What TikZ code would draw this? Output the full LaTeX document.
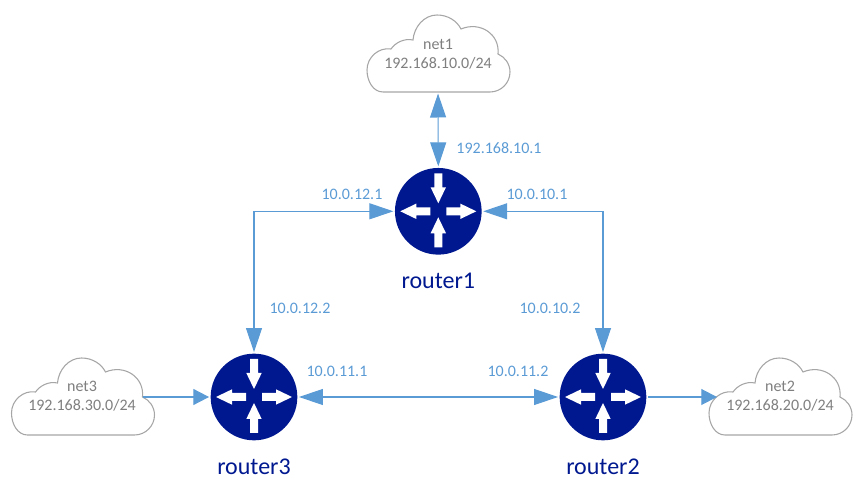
\documentclass[tikz,border=0pt]{standalone}
\usepackage{fontspec}
\setmainfont{Carlito}
\usetikzlibrary{positioning,arrows.meta}
\definecolor{linkblue}{HTML}{5B9BD5}
\definecolor{routerblue}{HTML}{00188F}
\definecolor{cloudgray}{HTML}{A6A6A6}
\definecolor{netgray}{HTML}{7F7F7F}
\tikzset{
	longtip/.tip={Triangle[length=18pt,width=12pt]},
	shorttip/.tip={Triangle[length=11.8pt,width=12pt]},
	routernode/.style={circle,fill=routerblue,minimum size=65pt,inner sep=0pt,outer sep=1.2pt},
	routertext/.style={text=routerblue,font=\fontsize{18pt}{21pt}\selectfont},
	iptext/.style={text=linkblue,font=\fontsize{12pt}{14pt}\selectfont},
	nettext/.style={text=netgray,align=center,font=\fontsize{12pt}{14.2pt}\selectfont},
	link/.style={draw=linkblue,line width=.8pt},
	cloudpic/.pic={
		\draw[cloudgray,line width=.8pt,fill=white] (16,77) .. controls (6,77) and (0,66) .. (0,55)
		.. controls (0,42) and (12,32) .. (24,34) .. controls (28,28) and (37,23) .. (46,25)
		.. controls (47,12) and (57,0) .. (70,0) .. controls (81,0) and (90,6) .. (94,14)
		.. controls (113,6) and (133,19) .. (131,39) .. controls (138,42) and (143,49) .. (143,57)
		.. controls (143,68) and (134,77) .. (123,77) -- cycle;
		\coordinate (-bottom) at (71,78.5);
		\coordinate (-notch) at (131,39);
		\coordinate (-left) at (8,39);
	},
	arrowinpic/.pic={
		\fill[white] (-4,-38) -- (4,-38) -- (4,-24) -- (7.7,-24) -- (0,-8) -- (-7.7,-24) -- (-4,-24) -- cycle;
	},
	arrowoutpic/.pic={
		\fill[white] (-4,-8) -- (4,-8) -- (4,-22) -- (7.7,-22) -- (0,-38) -- (-7.7,-22) -- (-4,-22) -- cycle;
	}
}
\begin{document}
\begin{tikzpicture}[x=.75pt,y=-.75pt,>=longtip]
	\useasboundingbox (0,0) rectangle (861,491);
	% clouds
	\pic (net1) at (367,15) {cloudpic};
	\pic (net3) at (11.5,358) {cloudpic};
	\pic (net2) at (709,358) {cloudpic};
	\node[nettext] (net1text) at (438,54.5) {net1\\192.168.10.0/24};
	\node[nettext] (net3text) at (82,396.5) {net3\\192.168.30.0/24};
	\node[nettext] (net2text) at (780,396.5) {net2\\192.168.20.0/24};
	% routers
	\node[routernode] (router1) at (438.3,211.3) {};
	\node[routernode] (router3) at (254,397) {};
	\node[routernode] (router2) at (603,397) {};
	\foreach \r in {router1,router2,router3}{
		\pic at (\r) {arrowinpic};
		\pic[rotate=180,yshift=-1.5pt] at (\r) {arrowinpic};
		\pic[rotate=90] at (\r) {arrowoutpic};
		\pic[rotate=270] at (\r) {arrowoutpic};
	}
	\node[routertext,below=9pt of router1] (router1text) {router1};
	\node[routertext,below=9pt of router3] (router3text) {router3};
	\node[routertext,below=9pt of router2] (router2text) {router2};
	% links
	\draw[link,<->] (net1-bottom) -- (router1.north);
	\draw[link,<->] (router1.west) -| (router3.north);
	\draw[link,<->] (router1.east) -| (router2.north);
	\draw[link,<->] (router3.east) -- (router2.west);
	\draw[link,-shorttip] (net3-notch) -- (router3.west);
	\draw[link,-shorttip] (router2.east) -- (net2-left);
	% addresses
	\node[iptext] (ip1) at (499,148) {192.168.10.1};
	\node[iptext] (ip2) at (352,194) {10.0.12.1};
	\node[iptext] (ip3) at (537,194) {10.0.10.1};
	\node[iptext] (ip4) at (300,308) {10.0.12.2};
	\node[iptext] (ip5) at (550,308) {10.0.10.2};
	\node[iptext] (ip6) at (337,371) {10.0.11.1};
	\node[iptext] (ip7) at (518,371) {10.0.11.2};
\end{tikzpicture}
\end{document}
